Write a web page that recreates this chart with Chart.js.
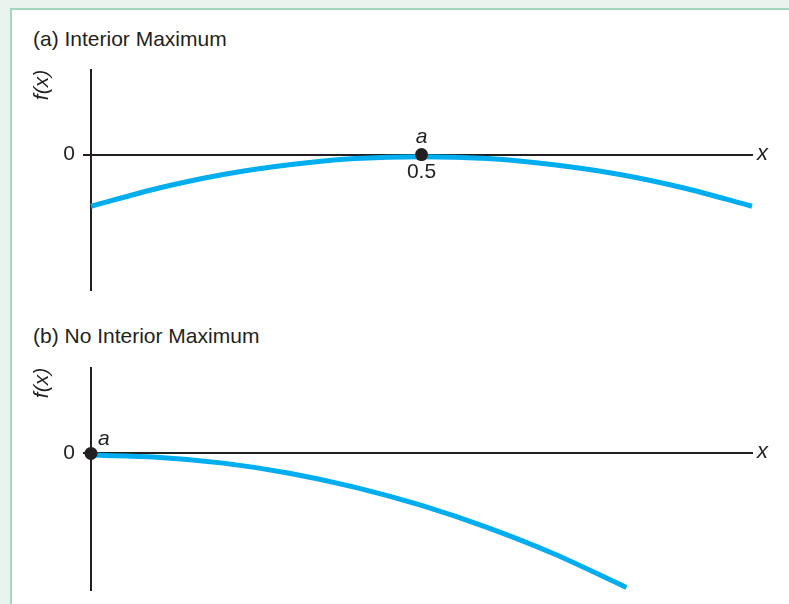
<!DOCTYPE html>
<html>
<head>
<meta charset="utf-8">
<script src="https://cdn.jsdelivr.net/npm/chart.js@4"></script>
<style>
  body { margin: 0; background: #e9f4ee; font-family: "Liberation Sans", Arial, sans-serif; color: #231f20; }
  .panel { position: absolute; left: 10px; top: 8px; width: 800px; height: 620px; background: #fff;
           border-left: 2px solid #a3d6bc; border-top: 2px solid #a3d6bc; }
  .title { position: absolute; left: 33px; font-size: 21px; line-height: 21px; white-space: nowrap; }
  .box { position: absolute; left: 0; width: 789px; }
</style>
</head>
<body>
<div class="panel"></div>
<div class="title" style="top:28px">(a) Interior Maximum</div>
<div class="title" style="top:325px">(b) No Interior Maximum</div>
<div class="box" style="top:0;height:300px"><canvas id="chartA"></canvas></div>
<div class="box" style="top:300px;height:304px"><canvas id="chartB"></canvas></div>

<script>
// panel (a): curve with a maximum inside the range
const xA = [0, 0.1, 0.2, 0.3, 0.4, 0.5, 0.6, 0.7, 0.8, 0.9, 1.0];
const fA = [-0.61, -0.40, -0.235, -0.12, -0.047, -0.024, -0.047, -0.12, -0.235, -0.40, -0.61];
const maxA = [0.5, 0];
const maxLabelA = '0.5';

// panel (b): curve falling from the left end
const xB = [0, 0.1, 0.2, 0.3, 0.4, 0.5, 0.6, 0.7, 0.81];
const fB = [-0.02, -0.044, -0.114, -0.232, -0.398, -0.61, -0.87, -1.176, -1.57];
const maxB = [0, 0];

const yTicks = [0];
const ink = '#231f20';
const blue = '#00aeef';
const fontFamily = '"Liberation Sans", Arial, sans-serif';

const labelsPlugin = {
  id: 'labels',
  afterDraw(chart, args, opts) {
    const { ctx, chartArea, scales } = chart;
    const px = scales.x.getPixelForValue(opts.point[0]);
    const py = scales.y.getPixelForValue(opts.point[1]);
    ctx.save();
    ctx.fillStyle = ink;
    ctx.font = 'italic 21px ' + fontFamily;
    ctx.textBaseline = 'alphabetic';

    // the "a" above / beside the maximum
    if (opts.under) {
      ctx.textAlign = 'center';
      ctx.fillText('a', px, py - 12);
      ctx.font = '21px ' + fontFamily;
      ctx.fillText(opts.under, px, py + 23);
    } else {
      ctx.textAlign = 'left';
      ctx.fillText('a', px + 7, py - 8);
    }

    // x at end of axis
    const zero = scales.y.getPixelForValue(0);
    ctx.font = 'italic 22px ' + fontFamily;
    ctx.textAlign = 'left';
    ctx.fillText('x', chartArea.right + 5, zero + 5);

    // f(x) rotated next to the top of the y axis
    ctx.font = 'italic 21px ' + fontFamily;
    ctx.translate(42, chartArea.top + 15);
    ctx.rotate(-Math.PI / 2);
    ctx.textAlign = 'center';
    ctx.textBaseline = 'middle';
    ctx.fillText('f(x)', 0, 0);
    ctx.restore();
  }
};

function makeChart(id, xs, ys, point, under, padTop, padBottom) {
  const ctx = document.getElementById(id).getContext('2d');
  return new Chart(ctx, {
    type: 'scatter',
    data: {
      datasets: [
        {
          data: [{ x: point[0], y: point[1] }],
          pointRadius: 6.5,
          backgroundColor: ink,
          borderWidth: 0,
          clip: false
        },
        {
          data: xs.map((x, i) => ({ x: x, y: ys[i] })),
          showLine: true,
          borderColor: blue,
          borderWidth: 5,
          pointRadius: 0,
          cubicInterpolationMode: 'monotone',
          clip: false
        }
      ]
    },
    options: {
      responsive: true,
      maintainAspectRatio: false,
      animation: false,
      layout: { padding: { left: 0, right: 37, top: padTop, bottom: padBottom } },
      plugins: {
        legend: { display: false },
        tooltip: { enabled: false },
        labels: { point: point, under: under }
      },
      scales: {
        x: {
          type: 'linear',
          min: 0,
          max: 1,
          position: { y: 0 },
          grid: { display: false },
          ticks: { display: false },
          border: { display: true, color: ink, width: 2 }
        },
        y: {
          min: -1.6,
          max: 1.0,
          afterBuildTicks: (scale) => { scale.ticks = yTicks.map(v => ({ value: v })); },
          afterFit: (scale) => {
            scale.width = 91;
            scale.paddingTop = 0;
            scale.paddingBottom = 0;
          },
          grid: { display: true, drawOnChartArea: false, drawTicks: true, tickLength: 8, color: ink, lineWidth: 2 },
          ticks: {
            padding: 8,
            color: ink,
            font: { family: fontFamily, size: 21 },
            callback: (v) => String(v)
          },
          border: { display: true, color: ink, width: 2 }
        }
      }
    },
    plugins: [labelsPlugin]
  });
}

makeChart('chartA', xA, fA, maxA, maxLabelA, 70, 10);
makeChart('chartB', xB, fB, maxB, null, 68, 14);
</script>
</body>
</html>
